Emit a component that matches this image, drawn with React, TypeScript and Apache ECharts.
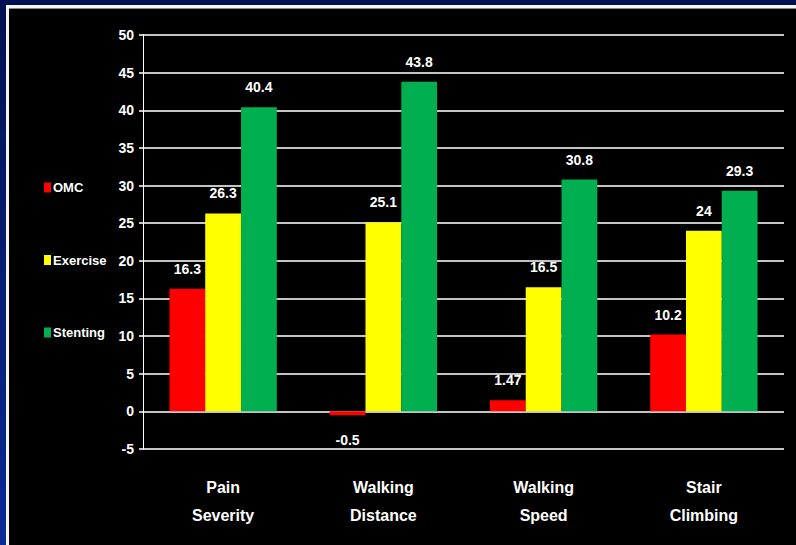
import React, { useEffect, useRef } from "react";
import * as echarts from "echarts";

const categories = ["Pain\nSeverity", "Walking\nDistance", "Walking\nSpeed", "Stair\nClimbing"];
const omcValues = [16.3, -0.5, 1.47, 10.2];
const exerciseValues = [26.3, 25.1, 16.5, 24];
const stentingValues = [40.4, 43.8, 30.8, 29.3];
const seriesNames = ["OMC", "Exercise", "Stenting"];
const seriesColors = ["#ff0000", "#ffff00", "#00b050"];

const FONT = "'Liberation Sans', Arial, sans-serif";

export default function App() {
  const ref = useRef<HTMLDivElement>(null);

  useEffect(() => {
    if (!ref.current) return;
    const chart = echarts.init(ref.current, undefined, { renderer: "svg" });

    const valueLabel = {
      show: true,
      position: "top" as const,
      distance: 13,
      color: "#ffffff",
      fontFamily: FONT,
      fontWeight: "bold" as const,
      fontSize: 14,
    };

    const toData = (vals: number[]) =>
      vals.map((v) =>
        v < 0 ? { value: v, label: { position: "bottom" as const, distance: 18 } } : v
      );

    const allValues = [omcValues, exerciseValues, stentingValues];

    chart.setOption({
      animation: false,
      backgroundColor: "#000000",
      graphic: [
        // navy frame along the top and left edges
        { type: "rect", shape: { x: 0, y: 0, width: 796, height: 5 }, style: { fill: "#001050" } },
        {
          type: "rect",
          shape: { x: 0, y: 0, width: 6, height: 545 },
          style: {
            fill: new echarts.graphic.LinearGradient(0, 0, 0, 1, [
              { offset: 0, color: "#001050" },
              { offset: 1, color: "#0a2a96" },
            ]),
          },
        },
        { type: "rect", shape: { x: 6, y: 5, width: 790, height: 3 }, style: { fill: "#f4f4f4" } },
        { type: "rect", shape: { x: 6, y: 5, width: 3, height: 540 }, style: { fill: "#f4f4f4" } },
        { type: "rect", shape: { x: 9, y: 8, width: 787, height: 1 }, style: { fill: "#8a8a8a" } },
      ],
      legend: {
        orient: "vertical",
        left: 39,
        top: 176,
        itemWidth: 7,
        itemHeight: 10,
        itemGap: 59.5,
        icon: "rect",
        textStyle: {
          color: "#ffffff",
          fontFamily: FONT,
          fontWeight: "bold",
          fontSize: 13,
          padding: [0, 0, 0, -3],
        },
        data: seriesNames,
      },
      grid: { left: 143, right: 12, top: 35, bottom: 96 },
      xAxis: {
        type: "category",
        data: categories,
        axisLine: { show: false, onZero: false },
        axisTick: { show: false },
        axisLabel: {
          color: "#ffffff",
          fontFamily: FONT,
          fontWeight: "bold",
          fontSize: 16,
          lineHeight: 28,
          margin: 24,
        },
      },
      yAxis: {
        type: "value",
        min: -5,
        max: 50,
        interval: 5,
        axisLine: { show: true, lineStyle: { color: "#ffffff", width: 1 } },
        axisTick: { show: true, length: 4, lineStyle: { color: "#c4c4c4", width: 2 } },
        axisLabel: {
          color: "#ffffff",
          fontFamily: FONT,
          fontWeight: "bold",
          fontSize: 14,
          margin: 9,
        },
        splitLine: { show: true, lineStyle: { color: "#c4c4c4", width: 2 } },
      },
      series: seriesNames.map((name, i) => ({
        name,
        type: "bar",
        data: toData(allValues[i]),
        barGap: "0%",
        barCategoryGap: "33%",
        itemStyle: { color: seriesColors[i] },
        label: valueLabel,
      })),
    });

    return () => chart.dispose();
  }, []);

  return (
    <div
      ref={ref}
      style={{ position: "fixed", left: 0, top: 0, width: 796, height: 545 }}
    />
  );
}
